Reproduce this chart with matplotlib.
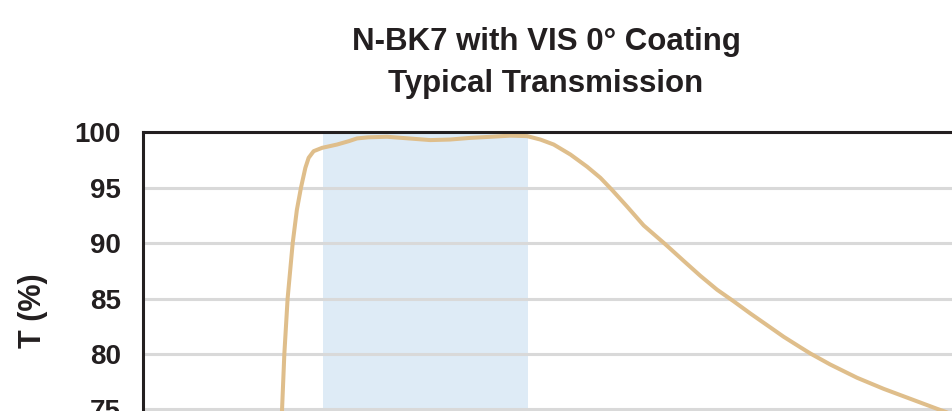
import matplotlib
matplotlib.use('Agg')
import matplotlib.pyplot as plt

# values
wavelength = [368, 374.8, 377.7, 381.7, 387.9, 393.0, 398.0, 403.4, 407.4, 413.5,
              423.8, 442.1, 456.3, 466.5, 480.0, 503.2, 530.0, 556.1, 580.0,
              605.0, 630.0, 653.9, 674.3, 690.5, 706.8, 727.2, 747.6, 763.8,
              778.1, 796.5, 816.7, 843.2, 865.6, 886.0, 906.4, 926.7, 947.1,
              967.5, 987.8, 1008.2, 1020.2, 1044.6, 1077.5, 1110.0, 1142.6,
              1175.2, 1205.0]
transmission = [65.0, 74.8, 80.0, 85.0, 90.0, 93.0, 95.0, 96.8, 97.7, 98.3,
                98.6, 98.9, 99.2, 99.45, 99.55, 99.6, 99.45, 99.3, 99.35,
                99.5, 99.6, 99.7, 99.66, 99.35, 98.9, 98.0, 96.9, 95.9,
                94.8, 93.3, 91.6, 89.9, 88.4, 87.05, 85.8, 84.75, 83.65,
                82.6, 81.55, 80.6, 80.05, 79.05, 77.85, 76.85, 75.95,
                75.05, 74.25]
band = (425, 675)
yticks = [50, 55, 60, 65, 70, 75, 80, 85, 90, 95, 100]

plt.rcParams['font.family'] = ['Liberation Sans', 'DejaVu Sans']

fig = plt.figure(figsize=(9.52, 4.11), dpi=100)
ax = fig.add_axes([0.1502, -0.670, 0.9414, 1.348])

ax.axvspan(band[0], band[1], color='#DEEBF6', zorder=0.2, lw=0)
ax.plot(wavelength, transmission, color='#DFBE8B', lw=2.9, zorder=2,
        solid_joinstyle='round')

ax.set_xlim(205, 1300)
ax.set_ylim(50, 100)
ax.set_yticks(yticks)
ax.set_xticks([])
ax.set_axisbelow(True)
ax.grid(axis='y', color='#D9D9D9', lw=2.2)
ax.tick_params(axis='y', length=0, pad=16, labelsize=20, colors='#231F20')
for lab in ax.get_yticklabels():
    lab.set_fontweight('bold')
for s in ax.spines.values():
    s.set_linewidth(2.2)
    s.set_color('#231F20')

fig.text(0.035, 0.243, 'T (%)', rotation=90, ha='center', va='center',
         fontsize=22, fontweight='bold', color='#231F20')
fig.text(0.5735, 0.878, 'N-BK7 with VIS 0° Coating', ha='center', va='baseline',
         fontsize=22.5, fontweight='bold', color='#231F20')
fig.text(0.5735, 0.776, 'Typical Transmission', ha='center', va='baseline',
         fontsize=22.5, fontweight='bold', color='#231F20')

fig.savefig('out.png', dpi=100)
